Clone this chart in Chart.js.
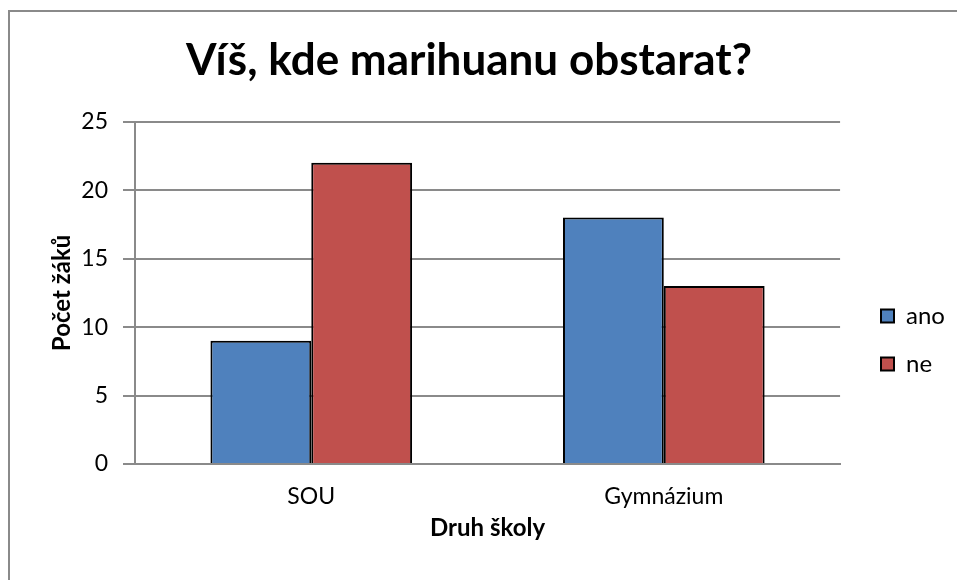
<!DOCTYPE html>
<html>
<head>
<meta charset="utf-8">
<script src="https://cdn.jsdelivr.net/npm/chart.js@4"></script>
<style>
  html, body { margin: 0; padding: 0; background: #fff; overflow: hidden; }
  #wrap { position: relative; width: 957px; height: 580px; }
  #frame { position: absolute; left: 8px; top: 10px; width: 1000px; height: 700px; border: 2px solid #8a8a8a; box-sizing: border-box; pointer-events: none; }
  canvas { position: absolute; left: 0; top: 0; }
</style>
</head>
<body>
<div id="wrap">
  <canvas id="c" width="957" height="580"></canvas>
  <div id="frame"></div>
</div>
<script>
const titleText = 'Víš, kde marihuanu obstarat?';
const categories = ['SOU', 'Gymnázium'];
const seriesNames = ['ano', 'ne'];
const anoValues = [9, 18];
const neValues = [22, 13];
const yTicks = [0, 5, 10, 15, 20, 25];
const yTitle = 'Počet žáků';
const xTitle = 'Druh školy';

const FONT = "Lato, 'Open Sans', sans-serif";
const ctx = document.getElementById('c').getContext('2d');

const legendMover = {
  id: 'legendMover',
  afterLayout(chart) {
    const lg = chart.legend;
    if (!lg) return;
    const pad = lg.options.labels.padding;
    const dx = 881 - (lg.left + pad);
    const dy = 340 - (lg.top + lg.bottom) / 2;
    lg.left += dx; lg.right += dx;
    lg.top += dy; lg.bottom += dy;
  }
};

new Chart(ctx, {
  type: 'bar',
  data: {
    labels: categories,
    datasets: [
      { label: seriesNames[0], data: anoValues, backgroundColor: '#4F81BD', borderColor: '#000', borderWidth: 2, categoryPercentage: 0.572, barPercentage: 1 },
      { label: seriesNames[1], data: neValues, backgroundColor: '#C0504D', borderColor: '#000', borderWidth: 2, categoryPercentage: 0.572, barPercentage: 1 }
    ]
  },
  plugins: [legendMover],
  options: {
    responsive: false,
    animation: false,
    devicePixelRatio: 1,
    layout: { padding: { left: 0, right: 19, top: 0, bottom: 0 } },
    plugins: {
      title: {
        display: true,
        text: titleText,
        color: '#000',
        font: { family: FONT, size: 44, weight: 'bold' },
        padding: { top: 34, bottom: 35 }
      },
      legend: {
        display: true,
        position: 'right',
        align: 'center',
        labels: {
          color: '#000',
          font: { family: FONT, size: 24 },
          boxWidth: 13,
          boxHeight: 13,
          padding: 24,
          generateLabels(chart) {
            return chart.data.datasets.map((ds, i) => ({
              text: ds.label,
              fillStyle: ds.backgroundColor,
              strokeStyle: '#000',
              lineWidth: 2,
              datasetIndex: i,
              hidden: false
            }));
          }
        }
      },
      tooltip: { enabled: false }
    },
    scales: {
      x: {
        grid: { display: false, drawTicks: false },
        border: { display: true, color: '#8a8a8a', width: 2 },
        ticks: { color: '#000', font: { family: FONT, size: 23 }, padding: 19 },
        title: { display: true, text: xTitle, color: '#000', font: { family: FONT, size: 24, weight: 'bold' }, padding: { top: 0, bottom: 37 } },
        afterFit(scale) { scale.height = 116; }
      },
      y: {
        min: 0, max: 25,
        afterBuildTicks(scale) { scale.ticks = yTicks.map(v => ({ value: v })); },
        grid: { color: '#8a8a8a', lineWidth: 2, drawTicks: true, tickLength: 12, tickColor: '#8a8a8a' },
        border: { display: true, color: '#8a8a8a', width: 2 },
        ticks: { color: '#000', font: { family: FONT, size: 23 }, padding: 15 },
        title: { display: true, text: yTitle, color: '#000', font: { family: FONT, size: 24, weight: 'bold' }, padding: { top: 48, bottom: 0 } },
        afterFit(scale) { scale.width = 135; }
      }
    }
  }
});
</script>
</body>
</html>
